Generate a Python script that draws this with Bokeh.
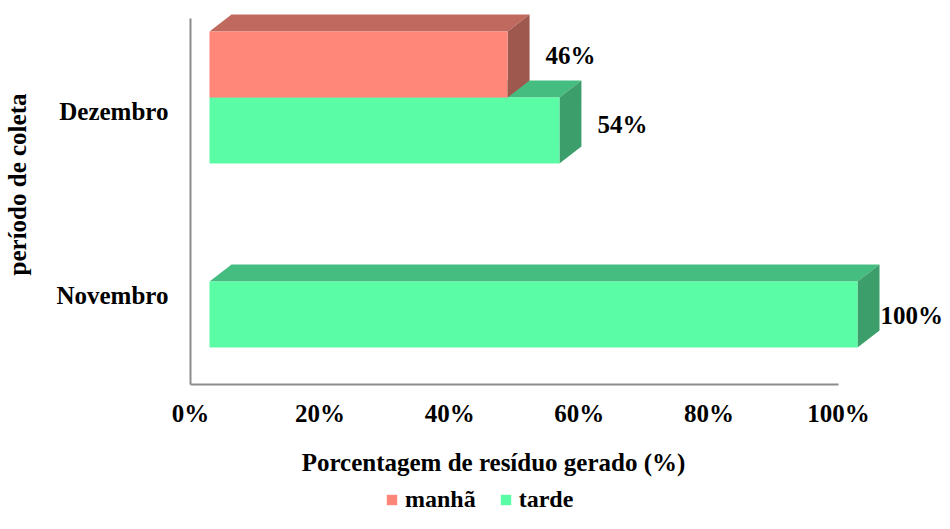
import math
from bokeh.plotting import figure
from bokeh.models import (Range1d, Label, LabelSet, ColumnDataSource,
                          Legend, LegendItem)
from bokeh.embed import file_html
from bokeh.resources import INLINE

# ---------------- data ----------------
categories = ["Novembro", "Dezembro"]
series_names = ["manhã", "tarde"]
manha = [0, 46]
tarde = [100, 54]
x_ticks = [0, 20, 40, 60, 80, 100]
x_tick_labels = [f"{t}%" for t in x_ticks]

x_title = "Porcentagem de resíduo gerado (%)"
y_title = "período de coleta"

# ---------------- style / layout (pixels) ----------------
FONT = "Liberation Serif"
W, H = 942, 513
PX_X = 6.48          # px per percent
PX_Y = 184.0         # px per category step
AX_X = 190           # px of 0 %
CAT0_Y = 295         # px (from top) of first category label
AXIS_BOTTOM_PY = 384
AXIS_TOP_PY = 18


def sx(px):
    return (px - AX_X) / PX_X


def sy(py):
    return (CAT0_Y - py) / PX_Y


D0 = 19 / PX_X       # bar front face starts this far right of the axis
DX = 22 / PX_X       # 3D depth, x
DY = 17 / PX_Y       # 3D depth, y
BH = 66 / PX_Y       # bar thickness
GOFF = 14 / PX_Y     # group centre above the category label

colors = {
    "manhã": dict(front="#FF877A", top="#C0695E", side="#9F584E"),
    "tarde": dict(front="#5BFCA6", top="#46BD80", side="#3B9E6B"),
}
# value-label nudges in px (right of bar front, up from bar centre)
label_nudge = {
    ("Dezembro", "manhã"): (38, 9),
    ("Dezembro", "tarde"): (38, 6),
    ("Novembro", "tarde"): (23, -1),
}

p = figure(width=W, height=H, output_backend="svg", toolbar_location=None,
           x_range=Range1d(sx(0), sx(W)), y_range=Range1d(sy(H), sy(0)),
           x_axis_type=None, y_axis_type=None,
           min_border_left=0, min_border_right=0,
           min_border_top=0, min_border_bottom=0)
p.outline_line_color = None
p.xgrid.visible = False
p.ygrid.visible = False
p.background_fill_color = "white"
p.border_fill_color = "white"

# axis lines
ax_y = sy(AXIS_BOTTOM_PY)
p.segment(x0=[0, 0], y0=[ax_y, ax_y], x1=[x_ticks[-1], 0], y1=[ax_y, sy(AXIS_TOP_PY)],
          line_color="#8c8c8c", line_width=2)

series_vals = {"manhã": manha, "tarde": tarde}
front_renderers = {}
for s in ["tarde", "manhã"]:
    vals = series_vals[s]
    lefts, rights, bottoms, tops = [], [], [], []
    top_xs, top_ys, side_xs, side_ys = [], [], [], []
    for i, (cat, v) in enumerate(zip(categories, vals)):
        if v <= 0:
            continue
        c = i + GOFF
        b, t = (c, c + BH) if s == "manhã" else (c - BH, c)
        l, r = D0, v + D0
        lefts.append(l); rights.append(r); bottoms.append(b); tops.append(t)
        top_xs.append([l, r, r + DX, l + DX]); top_ys.append([t, t, t + DY, t + DY])
        side_xs.append([r, r, r + DX, r + DX]); side_ys.append([b, t, t + DY, b + DY])
    col = colors[s]
    p.patches(top_xs, top_ys, fill_color=col["top"], line_color=None)
    p.patches(side_xs, side_ys, fill_color=col["side"], line_color=None)
    front_renderers[s] = p.quad(left=lefts, right=rights, bottom=bottoms, top=tops,
                                fill_color=col["front"], line_color=None)

text_kw = dict(text_font=FONT, text_font_style="bold", text_color="black")

# value labels
for s in series_names:
    for i, (cat, v) in enumerate(zip(categories, series_vals[s])):
        if v <= 0:
            continue
        c = i + GOFF
        fc = c + BH / 2 if s == "manhã" else c - BH / 2
        ndx, ndy = label_nudge.get((cat, s), (38, 7))
        p.add_layout(Label(x=v + D0 + ndx / PX_X, y=fc + ndy / PX_Y, text=f"{v}%",
                           text_font_size="25px", text_align="left",
                           text_baseline="middle", **text_kw))

# x tick labels
xt_src = ColumnDataSource(dict(x=x_ticks, y=[sy(413)] * len(x_ticks), text=x_tick_labels))
p.add_layout(LabelSet(x="x", y="y", text="text", source=xt_src, text_font_size="25px",
                      text_align="center", text_baseline="middle", **text_kw))

# category labels
cat_src = ColumnDataSource(dict(x=[sx(168)] * len(categories),
                                y=list(range(len(categories))), text=categories))
p.add_layout(LabelSet(x="x", y="y", text="text", source=cat_src, text_font_size="25px",
                      text_align="right", text_baseline="middle", **text_kw))

# axis titles
p.add_layout(Label(x=sx(493), y=sy(462), text=x_title, text_font_size="25px",
                   text_align="center", text_baseline="middle", **text_kw))
p.add_layout(Label(x=sx(17), y=sy(184), text=y_title, angle=math.pi / 2,
                   text_font_size="25px", text_align="center",
                   text_baseline="middle", **text_kw))

# legend
legend = Legend(items=[LegendItem(label=s, renderers=[front_renderers[s]]) for s in series_names],
                location=(385, 0), orientation="horizontal",
                border_line_color=None, background_fill_alpha=0,
                padding=0, margin=0, spacing=23, label_standoff=7,
                glyph_width=13, glyph_height=13,
                label_text_font=FONT, label_text_font_style="bold",
                label_text_font_size="24px", label_text_color="black")
p.add_layout(legend)

open("out.html", "w").write(file_html(p, INLINE))
